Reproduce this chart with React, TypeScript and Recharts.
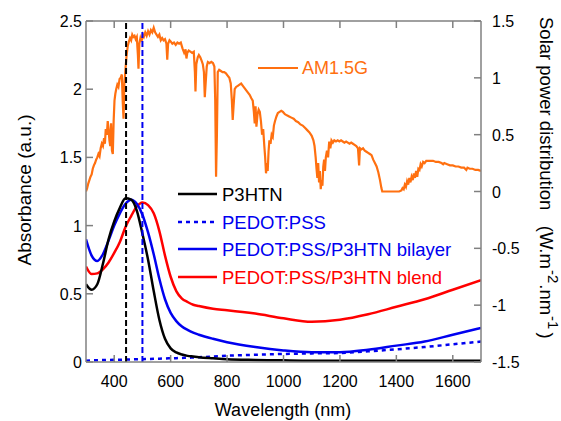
import React from "react";
import { LineChart, Line, XAxis, YAxis, ReferenceLine } from "recharts";

// absorbance spectra, read on a common wavelength grid (nm)
const absWl = [
  300, 320, 340, 360, 380, 400, 420, 440, 460, 480,
  500, 520, 540, 560, 580, 600, 620, 640, 660, 680,
  700, 750, 800, 900, 1000, 1100, 1200, 1300, 1400, 1500, 1600, 1700,
];
const p3htnAbs = [
  0.57, 0.53, 0.57, 0.72, 0.9, 1.03, 1.13, 1.2, 1.19, 1.11,
  0.94, 0.75, 0.52, 0.31, 0.17, 0.1, 0.07, 0.055, 0.045, 0.04,
  0.035, 0.027, 0.02, 0.015, 0.012, 0.01, 0.01, 0.01, 0.01, 0.01, 0.01, 0.01,
];
const pedotAbs = [
  0.01, 0.012, 0.013, 0.014, 0.015, 0.016, 0.017, 0.018, 0.019, 0.02,
  0.021, 0.022, 0.023, 0.024, 0.026, 0.027, 0.028, 0.03, 0.031, 0.033,
  0.035, 0.04, 0.046, 0.053, 0.059, 0.063, 0.066, 0.078, 0.093, 0.11, 0.13, 0.15,
];
const bilayerAbs = [
  0.9, 0.78, 0.74, 0.79, 0.89, 1.0, 1.09, 1.16, 1.19, 1.16,
  1.08, 0.95, 0.79, 0.61, 0.46, 0.36, 0.3, 0.26, 0.235, 0.215,
  0.2, 0.17, 0.145, 0.11, 0.085, 0.072, 0.072, 0.09, 0.12, 0.15, 0.2, 0.25,
];
const blendAbs = [
  0.7, 0.645, 0.65, 0.68, 0.73, 0.8, 0.88, 0.99, 1.07, 1.14,
  1.17, 1.15, 1.09, 0.96, 0.78, 0.625, 0.52, 0.465, 0.44, 0.42,
  0.41, 0.39, 0.38, 0.355, 0.32, 0.295, 0.31, 0.35, 0.405, 0.46, 0.53, 0.6,
];

// AM1.5G solar spectrum (W.m-2.nm-1)
const amWl = [
  300, 304, 308, 312, 316, 320, 324, 328, 332, 336,
  340, 344, 348, 352, 356, 360, 364, 367, 370, 374,
  377, 380, 383, 386, 389, 392, 395, 398, 401, 404,
  407, 411, 415, 419, 423, 427, 430, 433, 436, 440,
  444, 448, 452, 456, 460, 464, 468, 472, 476, 480,
  484, 486, 489, 493, 497, 501, 505, 510, 515, 520,
  525, 530, 535, 540, 545, 550, 555, 560, 565, 570,
  575, 580, 585, 588, 591, 596, 600, 606, 612, 618,
  624, 630, 636, 642, 648, 653, 656, 659, 664, 670,
  676, 682, 686, 688, 691, 696, 700, 705, 710, 714,
  718, 721, 724, 728, 732, 738, 744, 750, 755, 758,
  761, 764, 767, 772, 778, 784, 790, 796, 802, 808,
  813, 817, 820, 823, 827, 832, 838, 844, 850, 856,
  862, 868, 874, 880, 886, 891, 895, 898, 901, 904,
  908, 912, 916, 920, 924, 928, 932, 935, 938, 941,
  944, 947, 950, 954, 958, 962, 966, 970, 975, 980,
  986, 992, 998, 1005, 1012, 1020, 1028, 1036, 1044, 1052,
  1060, 1068, 1076, 1084, 1092, 1100, 1106, 1110, 1114, 1117,
  1120, 1123, 1126, 1129, 1132, 1135, 1138, 1141, 1144, 1147,
  1150, 1154, 1158, 1162, 1166, 1170, 1175, 1180, 1186, 1192,
  1198, 1204, 1210, 1216, 1222, 1228, 1234, 1240, 1246, 1252,
  1258, 1264, 1268, 1271, 1276, 1282, 1288, 1294, 1300, 1306,
  1312, 1318, 1324, 1330, 1336, 1342, 1347, 1350, 1380, 1410,
  1418, 1422, 1426, 1430, 1434, 1438, 1442, 1446, 1450, 1454,
  1458, 1462, 1466, 1470, 1474, 1478, 1482, 1486, 1490, 1495,
  1500, 1506, 1512, 1520, 1530, 1540, 1550, 1560, 1566, 1570,
  1580, 1590, 1600, 1610, 1620, 1630, 1640, 1648, 1652, 1660,
  1670, 1680, 1690, 1700,
];
const amPower = [
  0.0, 0.03, 0.07, 0.1, 0.13, 0.15, 0.2, 0.23, 0.25, 0.28,
  0.3, 0.33, 0.31, 0.38, 0.42, 0.4, 0.47, 0.42, 0.55, 0.5,
  0.62, 0.55, 0.45, 0.4, 0.6, 0.36, 0.33, 0.62, 0.8, 0.86,
  0.9, 0.94, 0.92, 0.99, 1.0, 1.03, 0.8, 0.64, 0.95, 1.08,
  1.2, 1.28, 1.32, 1.35, 1.33, 1.38, 1.36, 1.37, 1.34, 1.36,
  1.2, 1.08, 1.3, 1.35, 1.32, 1.38, 1.36, 1.4, 1.37, 1.41,
  1.38, 1.42, 1.4, 1.44, 1.4, 1.38, 1.36, 1.38, 1.33, 1.35,
  1.33, 1.34, 1.3, 1.16, 1.3, 1.33, 1.32, 1.3, 1.31, 1.29,
  1.31, 1.3, 1.31, 1.26, 1.22, 1.25, 1.17, 1.22, 1.24, 1.23,
  1.22, 1.23, 1.05, 0.88, 1.12, 1.18, 1.2, 1.18, 1.15, 1.12,
  1.05, 0.83, 0.95, 1.1, 1.14, 1.13, 1.14, 1.13, 1.1, 0.8,
  0.13, 0.5, 1.05, 1.07, 1.06, 1.05, 1.05, 1.04, 1.02, 1.0,
  0.95, 0.8, 0.63, 0.75, 0.9, 0.92, 0.93, 0.94, 0.95, 0.93,
  0.91, 0.89, 0.87, 0.85, 0.82, 0.8, 0.7, 0.6, 0.75, 0.57,
  0.68, 0.72, 0.7, 0.62, 0.5, 0.55, 0.4, 0.3, 0.16, 0.25,
  0.18, 0.35, 0.45, 0.42, 0.5, 0.48, 0.58, 0.62, 0.66, 0.69,
  0.7, 0.71, 0.7, 0.68, 0.67, 0.66, 0.65, 0.64, 0.62, 0.61,
  0.59, 0.58, 0.56, 0.54, 0.52, 0.49, 0.45, 0.4, 0.3, 0.2,
  0.12, 0.25, 0.08, 0.18, 0.02, 0.1, 0.05, 0.22, 0.28, 0.18,
  0.3, 0.36, 0.3, 0.44, 0.38, 0.45, 0.43, 0.45, 0.44, 0.45,
  0.44, 0.45, 0.44, 0.43, 0.44, 0.43, 0.42, 0.43, 0.42, 0.41,
  0.4, 0.38, 0.23, 0.38, 0.37, 0.38, 0.36, 0.35, 0.34, 0.33,
  0.32, 0.28, 0.25, 0.22, 0.17, 0.1, 0.03, 0.0, 0.0, 0.0,
  0.01, 0.03, 0.02, 0.06, 0.04, 0.09, 0.06, 0.12, 0.08, 0.13,
  0.1, 0.16, 0.12, 0.18, 0.13, 0.2, 0.19, 0.24, 0.22, 0.26,
  0.25, 0.27, 0.27, 0.27, 0.27, 0.26, 0.26, 0.25, 0.24, 0.25,
  0.24, 0.23, 0.23, 0.22, 0.22, 0.21, 0.21, 0.19, 0.21, 0.2,
  0.2, 0.19, 0.19, 0.18,
];

const xTicks = [400, 600, 800, 1000, 1200, 1400, 1600];
const absTicks = [0, 0.5, 1, 1.5, 2, 2.5];
const sunTicks = [-1.5, -1, -0.5, 0, 0.5, 1, 1.5];
const peakWl = [442, 500];

const FONT = "'Liberation Sans', Arial, Helvetica, sans-serif";
const AXIS = "#808080";
const ORANGE = "#ff7010";
const BLUE = "#0000f0";
const RED = "#ff0000";
const LEFT = 86;
const RIGHT = 481;
const TOP = 21;
const BOTTOM = 362;
const TICK = 7;

const toRows = (xs: number[], ys: number[]) => xs.map((wl, i) => ({ wl, v: ys[i] }));

const p3htnData = toRows(absWl, p3htnAbs);
const pedotData = toRows(absWl, pedotAbs);
const bilayerData = toRows(absWl, bilayerAbs);
const blendData = toRows(absWl, blendAbs);
const amData = toRows(amWl, amPower);

const legendRows = [
  { name: "P3HTN", color: "#000", dash: undefined as string | undefined, y: 194 },
  { name: "PEDOT:PSS", color: BLUE, dash: "4 4", y: 222 },
  { name: "PEDOT:PSS/P3HTN bilayer", color: BLUE, dash: undefined, y: 249 },
  { name: "PEDOT:PSS/P3HTN blend", color: RED, dash: undefined, y: 277 },
];

function BottomTick(props: any) {
  const { x, payload } = props;
  return (
    <g>
      <line x1={x} x2={x} y1={BOTTOM} y2={BOTTOM - TICK} stroke={AXIS} strokeWidth={1.5} />
      <line x1={x} x2={x} y1={TOP} y2={TOP + TICK} stroke={AXIS} strokeWidth={1.5} />
      <text x={x} y={BOTTOM + 25} textAnchor="middle" fontSize={16} fontFamily={FONT} fill="#000">
        {payload.value}
      </text>
    </g>
  );
}

function LeftTick(props: any) {
  const { y, payload } = props;
  return (
    <g>
      <line x1={LEFT} x2={LEFT + TICK} y1={y} y2={y} stroke={AXIS} strokeWidth={1.5} />
      <text x={LEFT - 4} y={y + 6} textAnchor="end" fontSize={16} fontFamily={FONT} fill="#000">
        {payload.value}
      </text>
    </g>
  );
}

function RightTick(props: any) {
  const { y, payload } = props;
  return (
    <g>
      <line x1={RIGHT} x2={RIGHT - TICK} y1={y} y2={y} stroke={AXIS} strokeWidth={1.5} />
      <text x={RIGHT + 11} y={y + 6} textAnchor="start" fontSize={16} fontFamily={FONT} fill="#000">
        {payload.value}
      </text>
    </g>
  );
}

export default function App() {
  return (
    <div style={{ position: "absolute", left: 0, top: 0, width: 561, height: 421, background: "#fff" }}>
      <LineChart width={561} height={421} margin={{ top: TOP, right: 0, bottom: 0, left: 0 }}>
        <XAxis
          type="number"
          dataKey="wl"
          domain={[300, 1700]}
          ticks={xTicks}
          height={421 - BOTTOM}
          tickLine={false}
          axisLine={{ stroke: AXIS, strokeWidth: 1.5 }}
          tick={(p: any) => <BottomTick {...p} />}
          allowDataOverflow
        />
        <YAxis
          yAxisId="abs"
          type="number"
          domain={[0, 2.5]}
          ticks={absTicks}
          width={LEFT}
          tickLine={false}
          axisLine={{ stroke: AXIS, strokeWidth: 1.5 }}
          tick={(p: any) => <LeftTick {...p} />}
          allowDataOverflow
        />
        <YAxis
          yAxisId="sun"
          orientation="right"
          type="number"
          domain={[-1.5, 1.5]}
          ticks={sunTicks}
          width={561 - RIGHT}
          tickLine={false}
          axisLine={{ stroke: AXIS, strokeWidth: 1.5 }}
          tick={(p: any) => <RightTick {...p} />}
          allowDataOverflow
        />
        <ReferenceLine yAxisId="abs" y={2.5} stroke={AXIS} strokeWidth={1.5} />
        <Line yAxisId="sun" data={amData} dataKey="v" type="linear" stroke={ORANGE} strokeWidth={2.2} dot={false} isAnimationActive={false} />
        <Line yAxisId="abs" data={pedotData} dataKey="v" type="monotone" stroke={BLUE} strokeWidth={2.5} strokeDasharray="4 4" dot={false} isAnimationActive={false} />
        <Line yAxisId="abs" data={blendData} dataKey="v" type="monotone" stroke={RED} strokeWidth={2.5} dot={false} isAnimationActive={false} />
        <Line yAxisId="abs" data={bilayerData} dataKey="v" type="monotone" stroke={BLUE} strokeWidth={2.5} dot={false} isAnimationActive={false} />
        <Line yAxisId="abs" data={p3htnData} dataKey="v" type="monotone" stroke="#000" strokeWidth={2.5} dot={false} isAnimationActive={false} />
        {peakWl.map((wl, i) => (
          <ReferenceLine
            key={wl}
            yAxisId="abs"
            x={wl}
            stroke={i === 0 ? "#000" : BLUE}
            strokeWidth={2}
            strokeDasharray="6 3"
          />
        ))}
      </LineChart>
      <svg
        width={561}
        height={421}
        style={{ position: "absolute", left: 0, top: 0, pointerEvents: "none", fontFamily: FONT }}
      >
        <line x1={258} x2={298} y1={68} y2={68} stroke={ORANGE} strokeWidth={2} />
        <text x={302} y={74} fontSize={18} fill={ORANGE}>AM1.5G</text>
        {legendRows.map((r) => (
          <g key={r.name}>
            <line x1={178} x2={217} y1={r.y} y2={r.y} stroke={r.color} strokeWidth={2.5} strokeDasharray={r.dash} />
            <text x={222} y={r.y + 6.5} fontSize={18.5} fill={r.color}>{r.name}</text>
          </g>
        ))}
        <text transform="translate(31,190) rotate(-90)" textAnchor="middle" fontSize={19} fill="#000">
          Absorbance (a.u.)
        </text>
        <text x={283} y={416} textAnchor="middle" fontSize={18} fill="#000">Wavelength (nm)</text>
        <text transform="translate(540,17) rotate(90)" fontSize={18.5} fill="#000" style={{ whiteSpace: "pre" }}>
          {"Solar power distribution   (W.m"}
          <tspan dy={-8} dx={1} fontSize={15}>-2</tspan>
          <tspan dy={8} dx={1}>.nm</tspan>
          <tspan dy={-8} dx={1} fontSize={15}>-1</tspan>
          <tspan dy={8} dx={3}>)</tspan>
        </text>
      </svg>
    </div>
  );
}
